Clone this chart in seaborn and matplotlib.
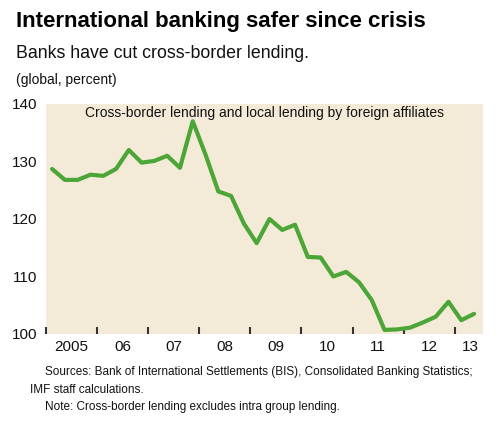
import matplotlib
matplotlib.use('Agg')
import matplotlib.pyplot as plt
import seaborn as sns
import numpy as np
import pandas as pd

# quarterly data, 2005Q1 - 2013Q2 (index, percent)
quarters = pd.period_range('2005Q1', '2013Q2', freq='Q')
lending = [128.7, 126.8, 126.8, 127.7, 127.5, 128.7, 132.0, 129.8, 130.1, 131.0,
           128.9, 137.0, 131.2, 124.8, 124.0, 119.2, 115.8, 120.0, 118.1, 119.0,
           113.4, 113.3, 110.0, 110.8, 109.0, 105.9, 100.7, 100.8, 101.1, 102.0,
           103.0, 105.6, 102.4, 103.5]
year_ticks = list(range(2005, 2014))
year_labels = ['2005', '06', '07', '08', '09', '10', '11', '12', '13']
y_ticks = [100, 110, 120, 130, 140]

sns.set_style('white')
plt.rcParams['font.family'] = ['Liberation Sans', 'DejaVu Sans']
plt.rcParams['text.color'] = '#111111'
plt.rcParams['xtick.color'] = '#111111'
plt.rcParams['ytick.color'] = '#111111'

df = pd.DataFrame({
    'x': [q.year + (q.quarter - 0.5) / 4 for q in quarters],
    'value': lending,
})

fig = plt.figure(figsize=(5, 4.21), dpi=100)
ax = fig.add_axes([0.0914, 0.2067, 0.8746, 0.5463])
ax.set_facecolor('#f3ebd7')

sns.lineplot(data=df, x='x', y='value', ax=ax, color='#4ca637', linewidth=3)

ax.set_xlim(2005, 2013.55)
ax.set_ylim(100, 140)
for s in ax.spines.values():
    s.set_visible(False)

# x: tick marks at year boundaries, labels mid-year
ax.set_xticks(year_ticks)
ax.set_xticklabels([])
lab_pos = [y + 0.5 for y in year_ticks[:-1]] + [2013.3]
ax.set_xticks(lab_pos, minor=True)
ax.set_xticklabels(year_labels, minor=True, fontsize=11)
ax.tick_params(axis='x', which='major', bottom=True, direction='in', length=5,
               width=1.5, color='#333333')
ax.tick_params(axis='x', which='minor', bottom=True, length=0, pad=4)

# y: labels at all, marks only at 110-130
ax.set_yticks(y_ticks)
ax.set_yticklabels([str(v) for v in y_ticks], fontsize=11)
ax.tick_params(axis='y', which='major', left=True, length=0, pad=6)
ax.set_yticks([110, 120, 130], minor=True)
ax.tick_params(axis='y', which='minor', left=True, direction='in', length=10,
               width=1.5, color='#333333')
ax.set_xlabel('')
ax.set_ylabel('')

ax.text(0.5, 0.99, 'Cross-border lending and local lending by foreign affiliates',
        transform=ax.transAxes, ha='center', va='top', fontsize=10)

fig.text(0.032, 0.950, 'International banking safer since crisis',
         fontsize=16, fontweight='bold', va='center', color='black')
fig.text(0.032, 0.874, 'Banks have cut cross-border lending.', fontsize=12.8, va='center')
fig.text(0.032, 0.810, '(global, percent)', fontsize=10, va='center')

fig.text(0.09, 0.116, 'Sources: Bank of International Settlements (BIS), Consolidated Banking Statistics;',
         fontsize=8.5, va='center')
fig.text(0.06, 0.074, 'IMF staff calculations.', fontsize=8.5, va='center')
fig.text(0.09, 0.033, 'Note: Cross-border lending excludes intra group lending.', fontsize=8.5,
         va='center')

fig.savefig('out.png', dpi=100)
